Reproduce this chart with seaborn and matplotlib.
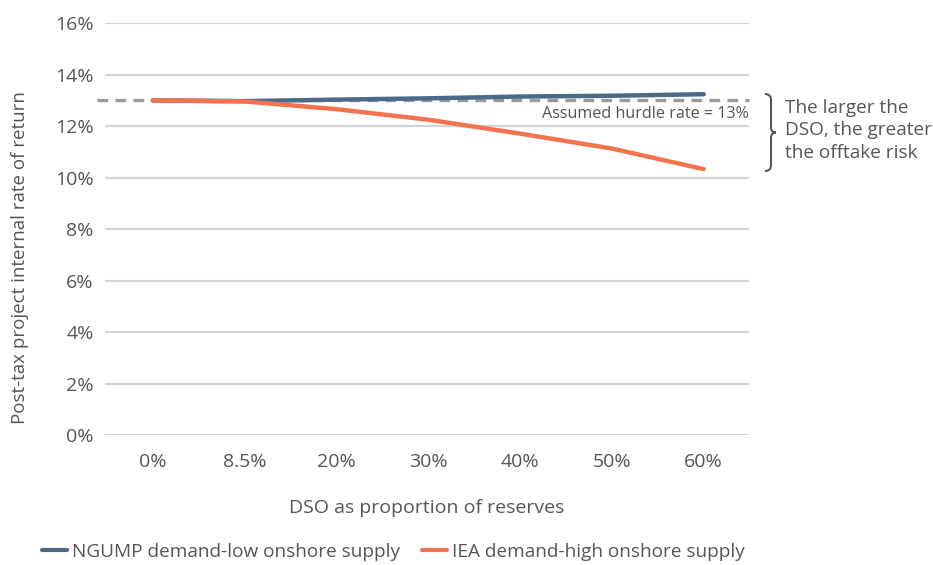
import matplotlib
matplotlib.use("Agg")
import matplotlib.pyplot as plt
from matplotlib.path import Path
from matplotlib.patches import PathPatch
from matplotlib.lines import Line2D
import seaborn as sns
import pandas as pd

# DSO share categories and project IRR (%) for each demand/supply scenario
dso_labels = ["0%", "8.5%", "20%", "30%", "40%", "50%", "60%"]
ngump_irr = [13.0, 12.97, 13.03, 13.08, 13.15, 13.18, 13.24]
iea_irr = [13.0, 12.96, 12.66, 12.25, 11.71, 11.13, 10.33]
series_names = ["NGUMP demand-low onshore supply", "IEA demand-high onshore supply"]
hurdle_rate = 13.0
y_ticks = [0, 2, 4, 6, 8, 10, 12, 14, 16]

sns.set_theme(style="white")
plt.rcParams["font.family"] = ["Open Sans", "DejaVu Sans"]

text_col = "#555555"
colors = {series_names[0]: "#4a6b87", series_names[1]: "#f4734f"}

df = pd.DataFrame({
    "dso": dso_labels * 2,
    "pos": list(range(len(dso_labels))) * 2,
    "irr": ngump_irr + iea_irr,
    "scenario": [series_names[0]] * len(dso_labels) + [series_names[1]] * len(dso_labels),
})

fig = plt.figure(figsize=(9.33, 5.65), dpi=100)
ax = fig.add_axes([0.1125, 0.230, 0.690, 0.729])

for yv in y_ticks:
    ax.axhline(yv, color="#d4d4d4", lw=1.6, zorder=0)

ax.axhline(hurdle_rate, xmin=-0.012, xmax=1.0, color="#9a9a9a", lw=2.4,
           ls=(0, (3.2, 2.2)), zorder=1, clip_on=False)

sns.lineplot(data=df, x="pos", y="irr", hue="scenario", palette=colors,
             hue_order=series_names, lw=3.2, ax=ax, legend=False, zorder=3,
             sort=True)

ax.set_xlim(-0.52, 6.49)
ax.set_ylim(0, 16)
ax.set_xticks(range(len(dso_labels)))
ax.set_xticklabels(dso_labels)
ax.set_yticks(y_ticks)
ax.set_yticklabels([f"{v}%" for v in y_ticks])
ax.tick_params(axis="both", length=0, labelsize=14, labelcolor=text_col)
ax.tick_params(axis="y", pad=8)
ax.tick_params(axis="x", pad=13)
for s in ax.spines.values():
    s.set_visible(False)

ax.set_xlabel("DSO as proportion of reserves", fontsize=14, color=text_col, labelpad=20)
ax.set_ylabel("Post-tax project internal rate of return", fontsize=13.5, color=text_col)
ax.yaxis.set_label_coords(-0.118, 0.43)

ax.text(6.49, hurdle_rate - 0.22, "Assumed hurdle rate = 13%", ha="right", va="top",
        fontsize=11.6, color=text_col)

# curly brace beside the chart, in figure pixel coordinates
W, H = 933, 565
def fp(x, y):
    return (x / W, 1 - y / H)

bx, top, bot = 765, 94, 171
mid = (top + bot) / 2
verts = [
    fp(bx, top), fp(bx + 6, top), fp(bx + 6, top + 6),
    fp(bx + 6, mid - 6),
    fp(bx + 6, mid - 1), fp(bx + 8, mid), fp(bx + 11, mid),
    fp(bx + 8, mid), fp(bx + 6, mid + 1), fp(bx + 6, mid + 6),
    fp(bx + 6, bot - 6),
    fp(bx + 6, bot), fp(bx, bot),
]
codes = [Path.MOVETO, Path.CURVE3, Path.CURVE3, Path.LINETO,
         Path.CURVE4, Path.CURVE4, Path.CURVE4,
         Path.CURVE4, Path.CURVE4, Path.CURVE4,
         Path.LINETO, Path.CURVE3, Path.CURVE3]
fig.patches.append(PathPatch(Path(verts, codes), transform=fig.transFigure,
                             fill=False, ec="#555555", lw=1.5))
fig.text(785 / W, 1 - 99 / H, "The larger the\nDSO, the greater\nthe offtake risk",
         ha="left", va="top", fontsize=13.7, color=text_col, linespacing=1.32)

# legend
handles = [Line2D([0], [0], color=colors[n], lw=3) for n in series_names]
fig.legend(handles, series_names, loc="center left", bbox_to_anchor=(25 / W, 1 - 552 / H),
           ncol=2, frameon=False, fontsize=13.7, labelcolor=text_col,
           handlelength=1.3, handletextpad=0.25, columnspacing=1.2)

fig.savefig("out.png", dpi=100)
